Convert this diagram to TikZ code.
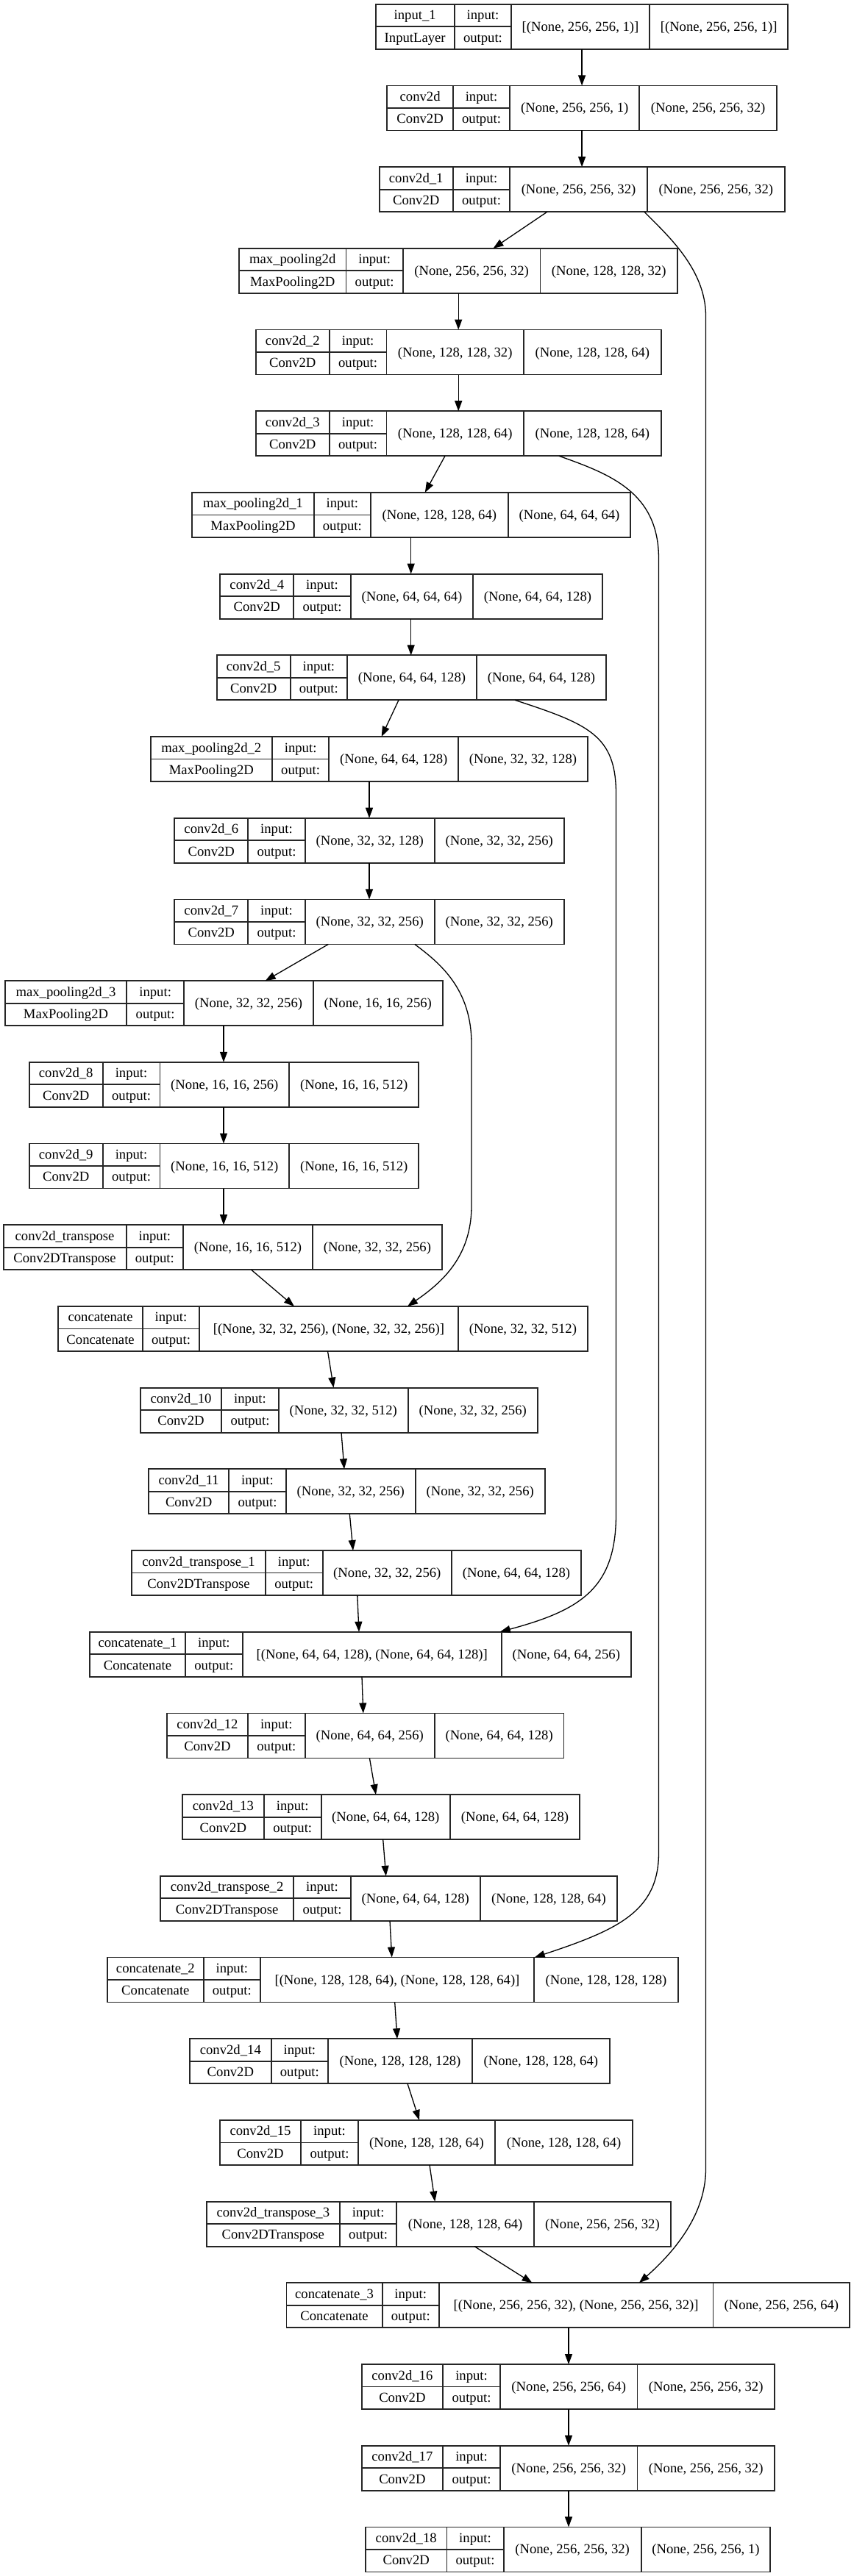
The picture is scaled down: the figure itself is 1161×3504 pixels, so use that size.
\documentclass[tikz,border=0pt]{standalone}
\usepackage{fontspec}
\setmainfont{Liberation Serif}
\usetikzlibrary{arrows.meta}
\tikzset{
  boxn/.style={draw=black!85, line width=1.8pt, minimum height=61pt, inner sep=0pt, outer sep=0pt},
  celln/.style={draw=black!85, line width=1.8pt},
  lbl/.style={anchor=base, inner sep=0pt, font=\fontsize{18.67}{22}\selectfont},
  arr/.style={draw=black, line width=1.3pt, -{Triangle[length=14pt,width=10pt]}},
}
\newcommand\lbls[4]{\def\Ltitle{#1}\def\Lclass{#2}\def\Lin{#3}\def\Lout{#4}}
\newcommand\lay[7]{%
  \pgfmathsetmacro\Ltop{5.7+110.7*#2}
  \node[boxn, minimum width={(#7-#3)*1pt}, anchor=north west] (#1) at (#3,\Ltop) {};
  \draw[celln] (#4,\Ltop) -- ++(0,61) (#5,\Ltop) -- ++(0,61) (#6,\Ltop) -- ++(0,61)
     (#3,{\Ltop+30.5}) -- (#5,{\Ltop+30.5});
  \node[lbl] (#1-a) at ({(#3+#4)/2},{\Ltop+21}) {\Ltitle};
  \node[lbl] (#1-b) at ({(#3+#4)/2},{\Ltop+51.3}) {\Lclass};
  \node[lbl] (#1-c) at ({(#4+#5)/2},{\Ltop+21}) {input:};
  \node[lbl] (#1-d) at ({(#4+#5)/2},{\Ltop+51.3}) {output:};
  \node[lbl] (#1-e) at ({(#5+#6)/2},{\Ltop+36.5}) {\Lin};
  \node[lbl] (#1-f) at ({(#6+#7)/2},{\Ltop+36.5}) {\Lout};
}
\begin{document}
\begin{tikzpicture}[x=1pt,y=-1pt]
\useasboundingbox[fill=white] (0,0) rectangle (1161,3504);

\lbls{input\_1}{InputLayer}{[(None, 256, 256, 1)]}{[(None, 256, 256, 1)]}
\lay{n0}{0}{510.6}{617.8}{695.1}{883}{1071.3}
\lbls{conv2d}{Conv2D}{(None, 256, 256, 1)}{(None, 256, 256, 32)}
\lay{n1}{1}{526.3}{615.9}{693.2}{869.2}{1056}
\lbls{conv2d\_1}{Conv2D}{(None, 256, 256, 32)}{(None, 256, 256, 32)}
\lay{n2}{2}{515.6}{615.9}{693.2}{879.9}{1066.7}
\lbls{max\_pooling2d}{MaxPooling2D}{(None, 256, 256, 32)}{(None, 128, 128, 32)}
\lay{n3}{3}{325}{470.5}{547.8}{734.4}{921}
\lbls{conv2d\_2}{Conv2D}{(None, 128, 128, 32)}{(None, 128, 128, 64)}
\lay{n4}{4}{347.8}{447.8}{525.4}{712}{898.7}
\lbls{conv2d\_3}{Conv2D}{(None, 128, 128, 64)}{(None, 128, 128, 64)}
\lay{n5}{5}{347.8}{447.8}{525.4}{712}{898.7}
\lbls{max\_pooling2d\_1}{MaxPooling2D}{(None, 128, 128, 64)}{(None, 64, 64, 64)}
\lay{n6}{6}{261.3}{426.7}{504}{690.7}{857.3}
\lbls{conv2d\_4}{Conv2D}{(None, 64, 64, 64)}{(None, 64, 64, 128)}
\lay{n7}{7}{299.3}{399.3}{476.7}{643.3}{818.7}
\lbls{conv2d\_5}{Conv2D}{(None, 64, 64, 128)}{(None, 64, 64, 128)}
\lay{n8}{8}{294.7}{394.7}{472}{648}{824}
\lbls{max\_pooling2d\_2}{MaxPooling2D}{(None, 64, 64, 128)}{(None, 32, 32, 128)}
\lay{n9}{9}{204.7}{370}{447.3}{623.3}{798.7}
\lbls{conv2d\_6}{Conv2D}{(None, 32, 32, 128)}{(None, 32, 32, 256)}
\lay{n10}{10}{237.3}{337.3}{414.7}{590.7}{766.7}
\lbls{conv2d\_7}{Conv2D}{(None, 32, 32, 256)}{(None, 32, 32, 256)}
\lay{n11}{11}{237.3}{337.3}{414.7}{590.7}{766.7}
\lbls{max\_pooling2d\_3}{MaxPooling2D}{(None, 32, 32, 256)}{(None, 16, 16, 256)}
\lay{n12}{12}{6.7}{172.3}{250}{425.9}{601.8}
\lbls{conv2d\_8}{Conv2D}{(None, 16, 16, 256)}{(None, 16, 16, 512)}
\lay{n13}{13}{39.7}{139.7}{217.4}{393.3}{569.2}
\lbls{conv2d\_9}{Conv2D}{(None, 16, 16, 512)}{(None, 16, 16, 512)}
\lay{n14}{14}{39.7}{139.7}{217.4}{393.3}{569.2}
\lbls{conv2d\_transpose}{Conv2DTranspose}{(None, 16, 16, 512)}{(None, 32, 32, 256)}
\lay{n15}{15}{4.6}{171.6}{249.1}{424.8}{601}
\lbls{concatenate}{Concatenate}{[(None, 32, 32, 256), (None, 32, 32, 256)]}{(None, 32, 32, 512)}
\lay{n16}{16}{79.2}{194}{271}{622.8}{799}
\lbls{conv2d\_10}{Conv2D}{(None, 32, 32, 512)}{(None, 32, 32, 256)}
\lay{n17}{17}{190.7}{301.3}{378.7}{554.7}{730.7}
\lbls{conv2d\_11}{Conv2D}{(None, 32, 32, 256)}{(None, 32, 32, 256)}
\lay{n18}{18}{202}{311.3}{388.7}{564.7}{740.7}
\lbls{conv2d\_transpose\_1}{Conv2DTranspose}{(None, 32, 32, 256)}{(None, 64, 64, 128)}
\lay{n19}{19}{179.3}{360.7}{438.7}{614}{790}
\lbls{concatenate\_1}{Concatenate}{[(None, 64, 64, 128), (None, 64, 64, 128)]}{(None, 64, 64, 256)}
\lay{n20}{20}{121.8}{252.1}{329.6}{682}{857.7}
\lbls{conv2d\_12}{Conv2D}{(None, 64, 64, 256)}{(None, 64, 64, 128)}
\lay{n21}{21}{226.9}{337}{414.6}{590.8}{766.5}
\lbls{conv2d\_13}{Conv2D}{(None, 64, 64, 128)}{(None, 64, 64, 128)}
\lay{n22}{22}{248}{358.7}{436.7}{612}{788}
\lbls{conv2d\_transpose\_2}{Conv2DTranspose}{(None, 64, 64, 128)}{(None, 128, 128, 64)}
\lay{n23}{23}{218}{399.3}{476.7}{652.7}{839.3}
\lbls{concatenate\_2}{Concatenate}{[(None, 128, 128, 64), (None, 128, 128, 64)]}{(None, 128, 128, 128)}
\lay{n24}{24}{146}{276.7}{354}{726}{922}
\lbls{conv2d\_14}{Conv2D}{(None, 128, 128, 128)}{(None, 128, 128, 64)}
\lay{n25}{25}{258}{368.7}{446}{642}{828.7}
\lbls{conv2d\_15}{Conv2D}{(None, 128, 128, 64)}{(None, 128, 128, 64)}
\lay{n26}{26}{298.7}{409.3}{486.7}{673.3}{860}
\lbls{conv2d\_transpose\_3}{Conv2DTranspose}{(None, 128, 128, 64)}{(None, 256, 256, 32)}
\lay{n27}{27}{280.7}{462}{539.3}{726}{912}
\lbls{concatenate\_3}{Concatenate}{[(None, 256, 256, 32), (None, 256, 256, 32)]}{(None, 256, 256, 64)}
\lay{n28}{28}{389.5}{519.6}{596.9}{969.4}{1155.3}
\lbls{conv2d\_16}{Conv2D}{(None, 256, 256, 64)}{(None, 256, 256, 32)}
\lay{n29}{29}{491.7}{602.1}{680}{866.5}{1053}
\lbls{conv2d\_17}{Conv2D}{(None, 256, 256, 32)}{(None, 256, 256, 32)}
\lay{n30}{30}{491.7}{602.1}{680}{866.5}{1053}
\lbls{conv2d\_18}{Conv2D}{(None, 256, 256, 32)}{(None, 256, 256, 1)}
\lay{n31}{31}{497}{607.4}{684.6}{871.7}{1047.2}

% straight connectors
\draw[arr] (n0.south -| 791.1,0) -- (n1.north -| 791.1,0);
\draw[arr] (n1.south -| 791.1,0) -- (n2.north -| 791.1,0);
\draw[arr] (n2.south -| 744,0) -- (n3.north -| 670.5,0);
\draw[arr] (n3.south -| 623.2,0) -- (n4.north -| 623.2,0);
\draw[arr] (n4.south -| 623.2,0) -- (n5.north -| 623.2,0);
\draw[arr] (n5.south -| 605,0) -- (n6.north -| 577.8,0);
\draw[arr] (n6.south -| 558.7,0) -- (n7.north -| 558.7,0);
\draw[arr] (n7.south -| 558.7,0) -- (n8.north -| 558.7,0);
\draw[arr] (n8.south -| 542,0) -- (n9.north -| 518.7,0);
\draw[arr] (n9.south -| 502,0) -- (n10.north -| 502,0);
\draw[arr] (n10.south -| 502,0) -- (n11.north -| 502,0);
\draw[arr] (n11.south -| 446.4,0) -- (n12.north -| 360.7,0);
\draw[arr] (n12.south -| 304,0) -- (n13.north -| 304,0);
\draw[arr] (n13.south -| 304,0) -- (n14.north -| 304,0);
\draw[arr] (n14.south -| 304,0) -- (n15.north -| 304,0);
\draw[arr] (n15.south -| 341.6,0) -- (n16.north -| 400,0);
\draw[arr] (n16.south -| 445.5,0) -- (n17.north -| 453.5,0);
\draw[arr] (n17.south -| 464,0) -- (n18.north -| 468,0);
\draw[arr] (n18.south -| 475.3,0) -- (n19.north -| 480,0);
\draw[arr] (n19.south -| 485.8,0) -- (n20.north -| 488,0);
\draw[arr] (n20.south -| 492,0) -- (n21.north -| 493.8,0);
\draw[arr] (n21.south -| 502.4,0) -- (n22.north -| 511,0);
\draw[arr] (n22.south -| 520.7,0) -- (n23.north -| 524.7,0);
\draw[arr] (n23.south -| 530,0) -- (n24.north -| 532.7,0);
\draw[arr] (n24.south -| 536.7,0) -- (n25.north -| 540,0);
\draw[arr] (n25.south -| 554,0) -- (n26.north -| 570,0);
\draw[arr] (n26.south -| 584,0) -- (n27.north -| 591.3,0);
\draw[arr] (n27.south -| 645,0) -- (n28.north -| 723.6,0);
\draw[arr] (n28.south -| 773,0) -- (n29.north -| 773,0);
\draw[arr] (n29.south -| 773,0) -- (n30.north -| 773,0);
\draw[arr] (n30.south -| 773,0) -- (n31.north -| 773,0);

% skip connectors
\draw[arr] (n2.south -| 875.9,0) .. controls (905,318) and (959.5,365) .. (959.5,430)
  -- (959.5,2950) .. controls (959.5,3010) and (920,3060) .. (n28.north -| 868.8,0);
\draw[arr] (n5.south -| 759.8,0) .. controls (830,645) and (895.5,670) .. (895.5,760)
  -- (895.5,2520) .. controls (895.5,2600) and (840,2625) .. (n24.north -| 726.7,0);
\draw[arr] (n8.south -| 700,0) .. controls (800,985) and (837.5,1000) .. (837.5,1080)
  -- (837.5,2060) .. controls (837.5,2160) and (790,2190) .. (n20.north -| 679.8,0);
\draw[arr] (n11.south -| 563.8,0) .. controls (598,1310) and (641,1345) .. (641,1420)
  -- (641,1640) .. controls (641,1710) and (600,1745) .. (n16.north -| 554,0);
\end{tikzpicture}
\end{document}
